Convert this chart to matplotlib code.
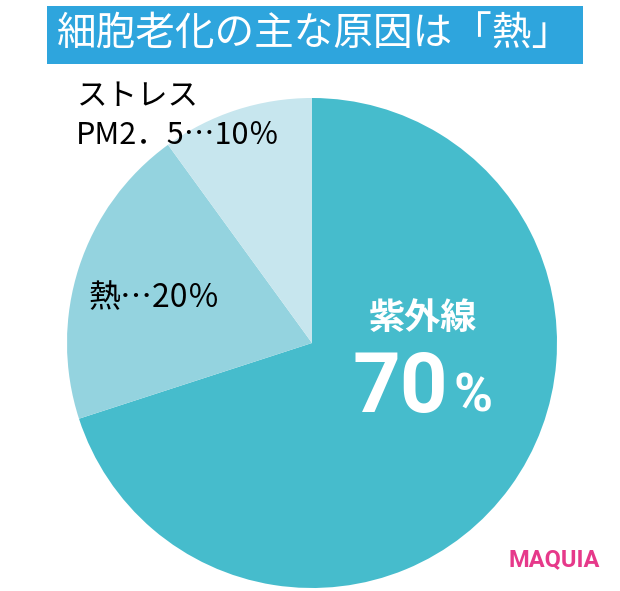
import matplotlib as mpl
mpl.use('Agg')
import matplotlib.pyplot as plt
from matplotlib.patches import Rectangle

# data
causes = ['紫外線', '熱', 'ストレス\nPM2．5']
shares = [70, 20, 10]
clrs = ['#46BCCC', '#94D3DF', '#C7E6EE']
title = '細胞老化の主な原因は「熱」'

jp = ['Noto Sans CJK JP', 'DejaVu Sans']
plt.rcParams['font.family'] = jp

W, H = 620, 591
fig = plt.figure(figsize=(W/100., H/100.), dpi=100, facecolor='w')
ax = fig.add_axes([0, 0, 1, 1])

# pie, clockwise from top
ax.pie(shares, colors=clrs, startangle=90, counterclock=False,
       center=(312, H-343), radius=245, frame=True,
       wedgeprops={'linewidth': 0})
ax.set_xlim(0, W)
ax.set_ylim(0, H)
ax.set_aspect('equal')
ax.axis('off')

# title banner
ax.add_patch(Rectangle((47, H-64), 536, 58, facecolor='#2EA5DD', edgecolor='none', zorder=5))
ax.text(314, H-35, title, color='w', fontsize=28.5, ha='center', va='center', zorder=6)

# labels
lab1, lab2 = causes[2].split('\n')
ax.text(77, H-96, lab1, fontsize=22, ha='left', va='center', color='k')
ax.text(76, H-136, lab2 + '…%d％' % shares[2], fontsize=22, ha='left', va='center', color='k')
ax.text(89, H-298, causes[1] + '…%d％' % shares[1], fontsize=23, ha='left', va='center', color='k')

ax.text(423, H-318, causes[0], fontsize=26, fontweight='bold', ha='center', va='center', color='w')
ax.text(400, H-412, '%d' % shares[0], family='Roboto', fontsize=60, fontweight='bold',
        ha='center', va='baseline', color='w')
ax.text(473, H-412, '%', family='Roboto', fontsize=38, fontweight='bold',
        ha='center', va='baseline', color='w')

ax.text(554, H-560, 'MAQUIA', family='Roboto', fontsize=17, fontweight='bold',
        ha='center', va='center', color='#E6398A')

plt.savefig('out.png', dpi=100, facecolor='w')
